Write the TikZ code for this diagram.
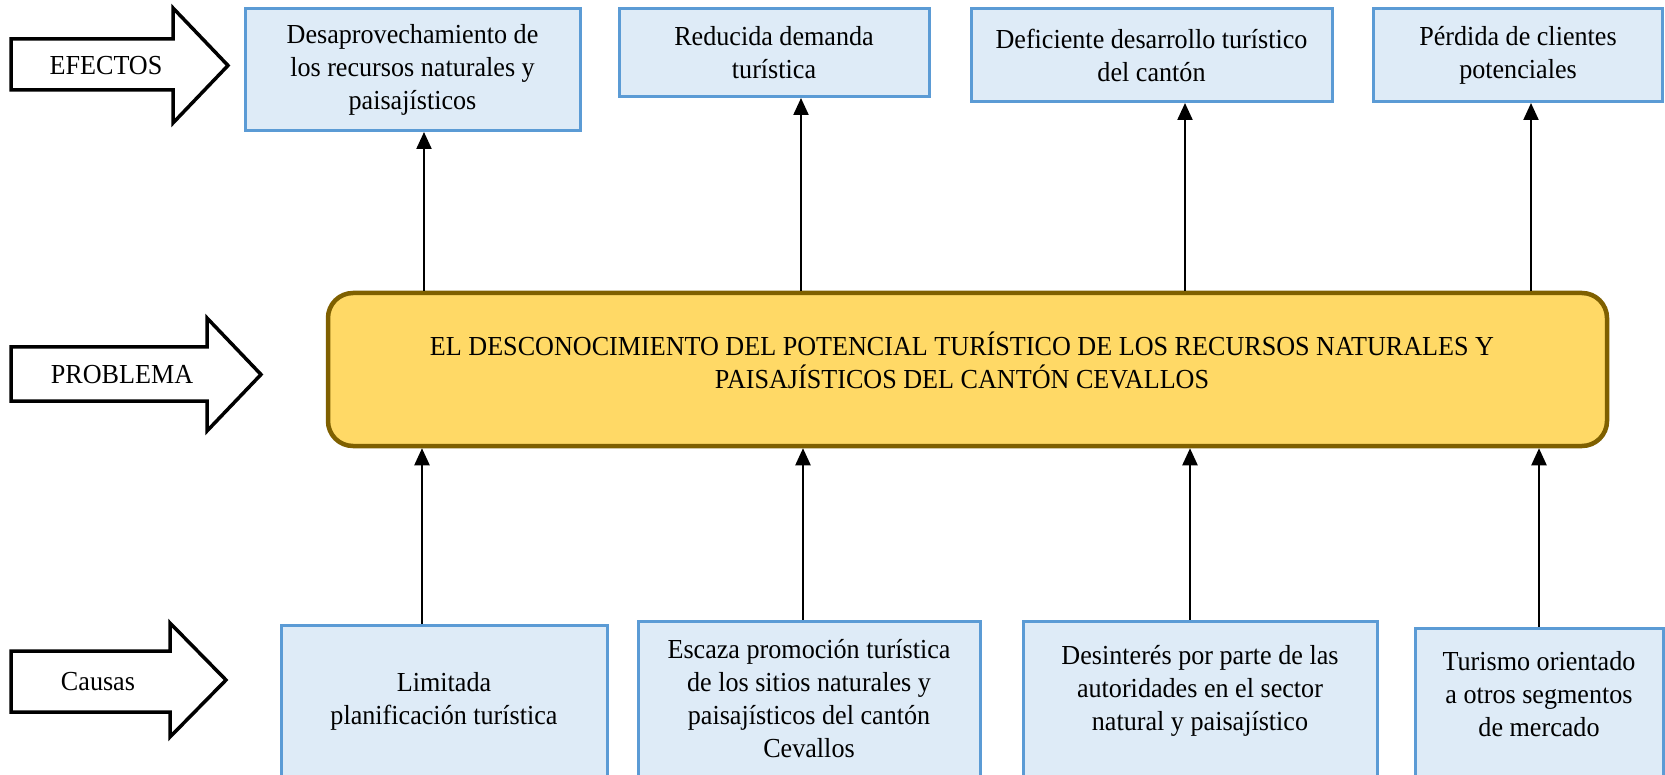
\documentclass[tikz,border=0pt]{standalone}
\usepackage{fontspec}
\setmainfont{Liberation Serif}[FakeStretch=0.95]
\usetikzlibrary{arrows.meta,calc}
\definecolor{boxfill}{HTML}{DEEBF7}
\definecolor{boxline}{HTML}{5B9BD5}
\definecolor{probfill}{HTML}{FFD966}
\definecolor{probline}{HTML}{7F6000}
\newcommand\diafont{\fontsize{27.5}{33}\selectfont}
\begin{document}
\begin{tikzpicture}[x=1pt,y=-1pt,
  efbox/.style={draw=boxline, fill=boxfill, line width=3pt, inner sep=0pt, align=center, font=\diafont},
  probbox/.style={draw=probline, fill=probfill, line width=4.5pt, rounded corners=25pt, inner sep=0pt, align=center, font=\diafont},
  bigarrow/.style={draw=black, fill=white, line width=3.5pt, line join=miter},
  arrlabel/.style={font=\diafont, inner sep=0pt},
  conn/.style={line width=2.2pt, -{Triangle[width=15pt,length=17pt]}}]
\useasboundingbox (0,0) rectangle (1665,775);

% side block arrows
\draw[bigarrow] (11,39) -- (173,39) -- (173,8) -- (228,65.5) -- (173,123) -- (173,90) -- (11,90) -- cycle;
\node[arrlabel] (lefectos) at (106,66) {EFECTOS};
\draw[bigarrow] (11,347) -- (207,347) -- (207,318) -- (261,374.5) -- (207,431) -- (207,401) -- (11,401) -- cycle;
\node[arrlabel] (lproblema) at (122,375) {PROBLEMA};
\draw[bigarrow] (11,651) -- (170,651) -- (170,623) -- (226,680) -- (170,737) -- (170,712) -- (11,712) -- cycle;
\node[arrlabel] (lcausas) at (98,682) {Causas};

% effects
\node[efbox, minimum width=335pt, minimum height=122pt] (e1) at (412.5,69.5) {Desaprovechamiento de\\los recursos naturales y\\paisajísticos};
\node[efbox, minimum width=310pt, minimum height=88pt] (e2) at (774,52.5) {Reducida demanda\\turística};
\node[efbox, minimum width=361pt, minimum height=93pt] (e3) at (1151.5,55) {Deficiente desarrollo turístico\\del cantón};
\node[efbox, minimum width=289pt, minimum height=93pt] (e4) at (1518,55) {Pérdida de clientes\\potenciales};

% problem
\node[probbox, minimum width=1279pt, minimum height=153pt] (p) at (967.5,369.5) {};
\node[font=\diafont, align=center, inner sep=0pt] (ptext) at (962,360) {EL DESCONOCIMIENTO DEL POTENCIAL TURÍSTICO DE LOS RECURSOS NATURALES Y\\PAISAJÍSTICOS DEL CANTÓN CEVALLOS};

% causes
\node[efbox, minimum width=326pt, minimum height=152pt] (c1) at (444,701) {Limitada\\planificación turística};
\node[efbox, minimum width=342pt, minimum height=156pt] (c2) at (809,699) {Escaza promoción turística\\de los sitios naturales y\\paisajísticos del cantón\\Cevallos};
\node[efbox, minimum width=354pt, minimum height=156pt] (c3) at (1200,699) {};
\node[font=\diafont, align=center, inner sep=0pt] (c3text) at (1200,691) {Desinterés por parte de las\\autoridades en el sector\\natural y paisajístico};
\node[efbox, minimum width=248pt, minimum height=148pt] (c4) at (1539,702) {};
\node[font=\diafont, align=center, inner sep=0pt] (c4text) at (1539,694) {Turismo orientado\\a otros segmentos\\de mercado};

% connector columns
\coordinate (xa) at (424,0);
\coordinate (xb) at (801,0);
\coordinate (xc) at (1185,0);
\coordinate (xd) at (1531,0);
\coordinate (ya) at (422,0);
\coordinate (yb) at (803,0);
\coordinate (yc) at (1190,0);
\coordinate (yd) at (1539,0);

\draw[conn] (p.north -| xa) -- (e1.south -| xa);
\draw[conn] (p.north -| xb) -- (e2.south -| xb);
\draw[conn] (p.north -| xc) -- (e3.south -| xc);
\draw[conn] (p.north -| xd) -- (e4.south -| xd);

\draw[conn] (c1.north -| ya) -- (p.south -| ya);
\draw[conn] (c2.north -| yb) -- (p.south -| yb);
\draw[conn] (c3.north -| yc) -- (p.south -| yc);
\draw[conn] (c4.north -| yd) -- (p.south -| yd);
\end{tikzpicture}
\end{document}
